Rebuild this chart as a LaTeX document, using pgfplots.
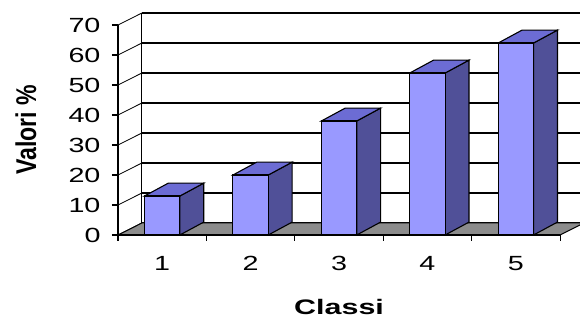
\documentclass[border=0pt]{standalone}
\usepackage{fontspec}
\usepackage{graphicx}
\usepackage{pgfplots}
\usepackage{pgfplotstable}
\pgfplotsset{compat=1.18}
\usetikzlibrary{backgrounds}
\setmainfont{Liberation Sans}
\newfontfamily\tickfont[FakeStretch=1.4]{Liberation Sans}
\newfontfamily\labfont[FakeStretch=1.45]{Liberation Sans Bold}
\definecolor{frontblue}{HTML}{9999FF}
\definecolor{sideblue}{HTML}{505098}
\definecolor{topblue}{HTML}{6C6CD4}
\definecolor{floorgray}{HTML}{8C8C8C}

\pgfplotstableread{
x v
1 13
2 20
3 38
4 54
5 64
}\data

\def\bw{0.2}
\def\dX{0.27}
\def\dY{4.3}
\def\wX{0.27}
\def\wY{4}

\begin{document}
\begin{tikzpicture}
\begin{axis}[
  name=ax, at={(0,0)}, anchor=south west,
  scale only axis, width=462pt, height=222pt,
  xmin=0.5, xmax=5.725, ymin=0, ymax=74,
  clip=false,
  axis lines*=left, axis line style={draw=none},
  ytick={0,10,...,70},
  xtick={1,...,5},
  tick align=outside,
  major tick length=6pt,
  ytick style={black, line width=1.2pt},
  xtick style={draw=none},
  /pgf/number format/assume math mode=true,
  ticklabel style={font=\tickfont\fontsize{20.5}{20.5}\selectfont, text=black},
  xticklabel style={yshift=-12pt},
  yticklabel style={xshift=-8pt},
]
% back wall gridlines
\pgfplotsinvokeforeach{0,10,...,70}{
  \pgfmathsetmacro\gy{#1+\wY}
  \pgfmathsetmacro\gxa{0.5+\wX}
  \pgfmathsetmacro\gxb{5.5+\wX}
  \edef\temp{\noexpand\addplot[black, line width=1.1pt] coordinates {(\gxa,\gy) (\gxb,\gy)};
    \noexpand\addplot[black, line width=0.8pt] coordinates {(0.5,#1) (\gxa,\gy)};}
  \temp
}
\pgfmathsetmacro\gxa{0.5+\wX}
\pgfmathsetmacro\gyt{70+\wY}
\edef\temp{\noexpand\addplot[black, line width=1.2pt] coordinates {(\gxa,\wY) (\gxa,\gyt)};}
\temp
% floor
\pgfmathsetmacro\fxa{0.5+\wX}
\pgfmathsetmacro\fxb{5.5+\wX}
\edef\temp{\noexpand\addplot[draw=black, line width=1pt, fill=floorgray] coordinates {(0.5,0) (5.5,0) (\fxb,\wY) (\fxa,\wY)} -- cycle;}
\temp
% bar side and top faces
\pgfplotsinvokeforeach{0,...,4}{
  \pgfplotstablegetelem{#1}{x}\of\data \let\cx\pgfplotsretval
  \pgfplotstablegetelem{#1}{v}\of\data \let\cv\pgfplotsretval
  \pgfmathsetmacro\xl{\cx-\bw}
  \pgfmathsetmacro\xr{\cx+\bw}
  \pgfmathsetmacro\xrb{\cx+\bw+\dX}
  \pgfmathsetmacro\xlb{\cx-\bw+\dX}
  \pgfmathsetmacro\vb{\cv+\dY}
  \edef\temp{\noexpand\addplot[draw=black, line width=1.1pt, fill=sideblue] coordinates {(\xr,0) (\xrb,\dY) (\xrb,\vb) (\xr,\cv)} -- cycle;
    \noexpand\addplot[draw=black, line width=1.1pt, fill=topblue] coordinates {(\xl,\cv) (\xr,\cv) (\xrb,\vb) (\xlb,\vb)} -- cycle;}
  \temp
}
% bar front faces
\addplot[ybar, bar width=0.4, fill=frontblue, draw=black, line width=1.1pt] table[x=x, y=v] {\data};
% front axis lines and category ticks
\addplot[black, line width=1.2pt] coordinates {(0.5,70) (0.5,0) (5.5,0)};
\pgfplotsinvokeforeach{0.5,1.5,2.5,3.5,4.5,5.5}{
  \addplot[black, line width=1.2pt] coordinates {(#1,0) (#1,-2)};
}
\node[anchor=center, yshift=-72pt] at (axis cs:3,0) {\labfont\fontsize{21}{21}\selectfont Classi};
\node[anchor=center, rotate=90, xshift=0pt, yshift=92pt] at (axis cs:0.5,35) {\scalebox{1.05}[1.3]{\bfseries\fontsize{22}{22}\selectfont Valori \%}};
\end{axis}
\pgfresetboundingbox
\path[use as bounding box] ([shift={(-118pt,-84pt)}]ax.south west) rectangle ([shift={(0pt,13pt)}]ax.north east);
\begin{scope}[on background layer]
\fill[white] ([shift={(-118pt,-84pt)}]ax.south west) rectangle ([shift={(0pt,13pt)}]ax.north east);
\end{scope}
\end{tikzpicture}
\end{document}
